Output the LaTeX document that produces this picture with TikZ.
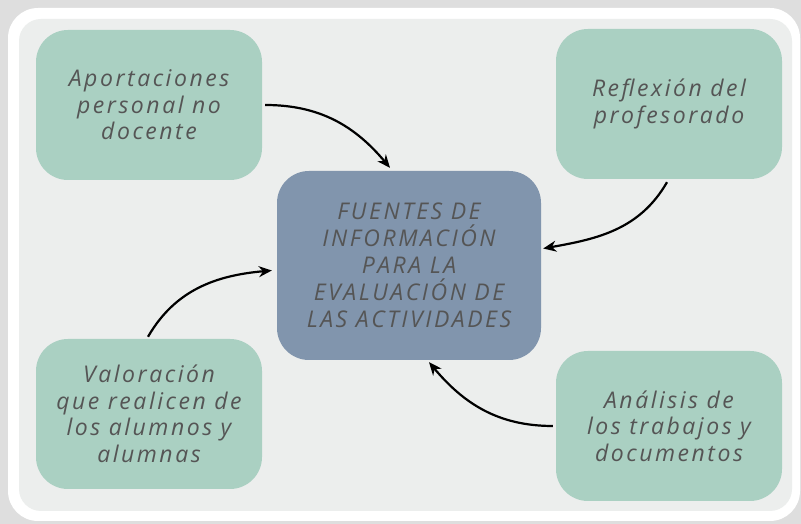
\documentclass[tikz,border=0pt]{standalone}
\usepackage{fontspec}
\usetikzlibrary{arrows.meta, positioning}
\newfontfamily\labelfont[LetterSpace=11]{Open Sans}
\definecolor{framegray}{RGB}{222,222,222}
\definecolor{panelgray}{RGB}{236,238,237}
\definecolor{sourcegreen}{RGB}{170,208,194}
\definecolor{hubblue}{RGB}{129,149,173}
\definecolor{textgray}{RGB}{85,85,85}

\begin{document}
\begin{tikzpicture}[x=1pt, y=1pt,
    source/.style={rectangle, fill=sourcegreen, minimum width=226pt, minimum height=150pt, rounded corners=32pt, align=center, text=textgray, font={\labelfont\itshape\fontsize{23}{26.5}\selectfont}},
    hub/.style={rectangle, fill=hubblue, minimum width=264pt, minimum height=189pt, rounded corners=32pt, align=center, text=textgray, font={\labelfont\itshape\fontsize{23}{27}\selectfont}},
    arrow/.style={-{Stealth[length=13pt, width=11pt]}, line width=2.2pt, black}
]

% Frame
\fill[framegray] (0,0) rectangle (801,524);
\fill[white, rounded corners=30pt] (8,3) rectangle (800,516);
\fill[panelgray, rounded corners=22pt] (19,13) rectangle (792,505);

% Centre
\node[hub] (hub) at (409,258.5) {FUENTES DE\\INFORMACIÓN\\PARA LA\\EVALUACIÓN DE\\LAS ACTIVIDADES};

% Sources
\node[source] (aport) at (149,419) {Aportaciones\\personal no\\docente};
\node[source] (reflex) at (669,420) {Reflexión del\\profesorado};
\node[source] (valor) at (149,110) {Valoración\\que realicen de\\los alumnos y\\alumnas};
\node[source] (analisis) at (669,98) {Análisis de\\los trabajos y\\documentos};

% Arrows: sources to centre
\draw[arrow] ([xshift=3pt]aport.east) to[out=0, in=130] ([xshift=-19pt, yshift=3pt]hub.north);
\draw[arrow] ([xshift=-2pt, yshift=-3pt]reflex.south) to[out=240, in=10] ([xshift=2pt, yshift=17pt]hub.east);
\draw[arrow] ([xshift=-1pt, yshift=2pt]valor.north) to[out=60, in=185] ([xshift=-5pt, yshift=-5pt]hub.west);
\draw[arrow] ([xshift=-3pt]analisis.west) to[out=180, in=-50] ([xshift=20pt, yshift=-2pt]hub.south);

\end{tikzpicture}
\end{document}
